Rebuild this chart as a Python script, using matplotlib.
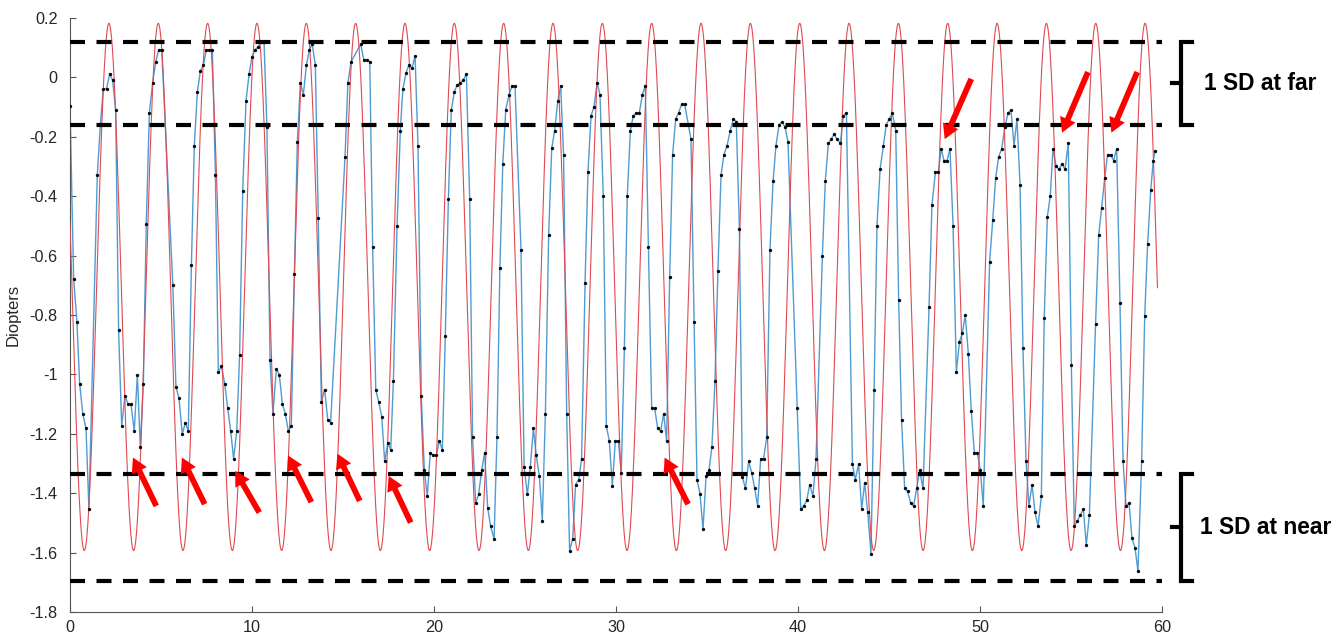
import numpy as np
import matplotlib
matplotlib.use('Agg')
import matplotlib.pyplot as plt
from matplotlib import transforms
from matplotlib.patches import FancyArrowPatch

# ---------------- data ----------------
time_s = [
    0.00, 0.20, 0.38, 0.53, 0.70, 0.88, 1.04, 1.50, 1.67, 1.83, 2.01, 2.18, 2.34, 2.51, 2.67, 2.84,
    3.02, 3.19, 3.35, 3.53, 3.70, 3.86, 4.03, 4.19, 4.36, 4.54, 4.71, 4.87, 5.04, 5.65, 5.82, 5.99,
    6.17, 6.34, 6.50, 6.67, 6.83, 7.00, 7.16, 7.33, 7.49, 7.66, 7.82, 7.99, 8.15, 8.32, 8.50, 8.66,
    8.83, 8.99, 9.16, 9.32, 9.49, 9.67, 9.84, 10.00, 10.16, 10.33, 10.49, 10.66, 10.82, 10.99, 11.15,
    11.34, 11.50, 11.67, 11.83, 12.00, 12.16, 12.33, 12.49, 12.66, 12.82, 12.99, 13.15, 13.31, 13.48,
    13.64, 13.81, 13.99, 14.16, 14.32, 15.11, 15.27, 15.44, 15.97, 16.14, 16.30, 16.47, 16.63, 16.80,
    16.96, 17.13, 17.29, 17.46, 17.62, 17.77, 17.97, 18.15, 18.29, 18.46, 18.63, 18.79, 18.96, 19.12,
    19.30, 19.47, 19.63, 19.80, 19.96, 20.13, 20.29, 20.46, 20.62, 20.79, 20.95, 21.12, 21.28, 21.45,
    21.61, 21.78, 21.96, 22.12, 22.29, 22.45, 22.62, 22.78, 22.95, 23.11, 23.30, 23.46, 23.62, 23.78,
    23.94, 24.12, 24.29, 24.45, 24.78, 24.95, 25.13, 25.29, 25.46, 25.62, 25.79, 25.95, 26.12, 26.30,
    26.47, 26.63, 26.80, 26.96, 27.12, 27.29, 27.45, 27.62, 27.78, 27.95, 28.11, 28.30, 28.46, 28.63,
    28.79, 28.96, 29.12, 29.30, 29.47, 29.63, 29.80, 29.96, 30.13, 30.29, 30.46, 30.62, 30.79, 30.95,
    31.12, 31.28, 31.45, 31.61, 31.78, 31.96, 32.12, 32.29, 32.45, 32.62, 32.78, 32.95, 33.11, 33.28,
    33.44, 33.61, 33.77, 34.12, 34.29, 34.45, 34.62, 34.78, 34.95, 35.11, 35.27, 35.44, 35.60, 35.77,
    35.93, 36.10, 36.28, 36.45, 36.61, 36.78, 36.94, 37.11, 37.29, 37.46, 37.62, 37.78, 37.95, 38.11,
    38.28, 38.46, 38.63, 38.79, 38.96, 39.12, 39.29, 39.45, 39.96, 40.15, 40.31, 40.48, 40.64, 40.82,
    40.99, 41.34, 41.50, 41.67, 41.83, 41.98, 42.14, 42.33, 42.49, 42.66, 42.99, 43.15, 43.33, 43.50,
    43.66, 43.83, 44.01, 44.18, 44.34, 44.51, 44.69, 44.85, 45.02, 45.18, 45.37, 45.53, 45.69, 45.86,
    46.02, 46.19, 46.35, 46.52, 46.68, 46.87, 47.20, 47.36, 47.55, 47.71, 47.87, 48.02, 48.19, 48.35,
    48.52, 48.70, 48.87, 49.03, 49.19, 49.36, 49.52, 49.69, 49.85, 50.02, 50.18, 50.53, 50.70, 50.86,
    51.02, 51.19, 51.37, 51.54, 51.70, 51.87, 52.03, 52.20, 52.36, 52.53, 52.69, 52.86, 53.02, 53.19,
    53.37, 53.53, 53.70, 53.86, 54.01, 54.18, 54.34, 54.51, 54.67, 54.85, 55.02, 55.18, 55.35, 55.51,
    55.68, 55.84, 56.01, 56.35, 56.52, 56.68, 56.85, 57.01, 57.18, 57.34, 57.51, 57.69, 57.86, 58.02,
    58.19, 58.35, 58.52, 58.68, 58.88, 59.05, 59.21, 59.38, 59.52, 59.63,
]
diopters = [
    -0.097, -0.678, -0.822, -1.031, -1.132, -1.182, -1.454, -0.329, -0.158, -0.038, -0.038, 0.012, -0.009, -0.110, -0.851, -1.173,
    -1.073, -1.100, -1.100, -1.192, -1.001, -1.243, -1.031, -0.495, -0.119, -0.018, 0.052, 0.093, 0.093, -0.698, -1.041, -1.081,
    -1.201, -1.162, -1.192, -0.633, -0.230, -0.048, 0.021, 0.041, 0.093, 0.093, 0.093, -0.329, -0.992, -0.973, -1.031, -1.112,
    -1.192, -1.284, -1.192, -0.933, -0.382, -0.080, 0.012, 0.069, 0.093, 0.102, 0.120, 0.120, -0.168, -0.953, -1.132,
    -0.982, -1.001, -1.100, -1.132, -1.192, -1.173, -0.661, -0.218, -0.018, -0.058, 0.041, 0.093, 0.112, 0.041,
    -0.472, -1.093, -1.051, -1.152, -1.162, -0.269, -0.018, 0.052, 0.112, 0.060, 0.060, 0.052, -0.570, -1.051,
    -1.093, -1.142, -1.293, -1.231, -1.254, -1.021, -0.499, -0.179, -0.038, 0.014, 0.043, 0.030, 0.073, -0.230,
    -1.073, -1.323, -1.410, -1.263, -1.273, -1.273, -1.224, -1.254, -0.872, -0.410, -0.110, -0.048, -0.025, -0.018,
    -0.009, 0.012, -0.410, -1.212, -1.433, -1.404, -1.323, -1.263, -1.450, -1.511, -1.554, -1.212, -0.642, -0.290,
    -0.110, -0.058, -0.029, -0.029, -0.580, -1.312, -1.404, -1.312, -1.182, -1.273, -1.342, -1.493, -1.132, -0.531,
    -0.238, -0.179, -0.080, -0.029, -0.260, -1.132, -1.593, -1.554, -1.371, -1.354, -1.284, -0.692, -0.319, -0.129,
    -0.099, -0.018, -0.058, -0.400, -1.173, -1.224, -1.375, -1.224, -1.224, -1.332, -0.911, -0.400, -0.179, -0.129,
    -0.119, -0.119, -0.058, -0.029, -0.570, -1.112, -1.112, -1.182, -1.192, -1.132, -1.224, -0.672, -0.260, -0.140,
    -0.119, -0.090, -0.090, -0.208, -0.822, -1.354, -1.404, -1.522, -1.342, -1.323, -1.243, -1.021, -0.652, -0.329,
    -0.260, -0.230, -0.179, -0.140, -0.149, -0.511, -1.345, -1.384, -1.293, -1.332, -1.384, -1.443, -1.284, -1.284,
    -1.212, -0.580, -0.349, -0.230, -0.159, -0.149, -0.168, -0.218, -1.112, -1.454, -1.443, -1.424, -1.371, -1.410,
    -1.284, -0.600, -0.349, -0.221, -0.208, -0.191, -0.208, -0.221, -0.129, -0.119, -1.302, -1.354, -1.302, -1.454,
    -1.365, -1.463, -1.604, -1.051, -0.499, -0.310, -0.230, -0.159, -0.140, -0.119, -0.179, -0.750, -1.152, -1.384,
    -1.394, -1.433, -1.443, -1.384, -1.323, -1.384, -0.773, -0.430, -0.319, -0.319, -0.240, -0.280, -0.280, -0.240,
    -0.499, -0.992, -0.890, -0.861, -0.800, -0.931, -1.123, -1.263, -1.263, -1.323, -1.443, -0.620, -0.480, -0.339,
    -0.269, -0.240, -0.168, -0.119, -0.110, -0.230, -0.140, -0.361, -0.911, -1.293, -1.443, -1.371, -1.463, -1.511,
    -1.410, -0.809, -0.469, -0.400, -0.240, -0.299, -0.310, -0.290, -0.310, -0.221, -0.970, -1.512, -1.493, -1.473,
    -1.454, -1.574, -1.473, -0.829, -0.531, -0.441, -0.339, -0.260, -0.260, -0.280, -0.240, -0.759, -1.293, -1.443,
    -1.433, -1.552, -1.584, -1.663, -1.293, -0.803, -0.561, -0.380, -0.280, -0.247,
]

# sinusoidal stimulus (parameters)
stim_mean = -0.7055
stim_amp = 0.8875
stim_period = 2.711
stim_first_peak = 2.14
stim_end = 59.75

# +/- 1 SD reference levels
sd_far = [0.12, -0.16]
sd_near = [-1.335, -1.695]
sd_labels = ['1 SD at far', '1 SD at near']

# red arrows: tail (t, D) -> head (t, D)
arrow_tail_t = [4.74, 7.40, 10.40, 13.26, 15.92, 18.72, 33.96, 49.52, 55.93, 58.64]
arrow_tail_d = [-1.443, -1.437, -1.465, -1.430, -1.426, -1.499, -1.437, -0.005, 0.018, 0.018]
arrow_head_t = [3.46, 6.15, 9.08, 11.98, 14.69, 17.51, 32.67, 48.06, 54.51, 57.22]
arrow_head_d = [-1.280, -1.280, -1.325, -1.273, -1.267, -1.342, -1.280, -0.208, -0.186, -0.186]

x_ticks = [0, 10, 20, 30, 40, 50, 60]
y_ticks = [0.2, 0.0, -0.2, -0.4, -0.6, -0.8, -1.0, -1.2, -1.4, -1.6, -1.8]
y_tick_labels = ['0.2', '0', '-0.2', '-0.4', '-0.6', '-0.8', '-1', '-1.2', '-1.4', '-1.6', '-1.8']
y_label = 'Diopters'

# ---------------- drawing ----------------
plt.rcParams['font.family'] = ['Liberation Sans', 'DejaVu Sans']
plt.rcParams['axes.unicode_minus'] = False

W, H = 1338, 638
fig = plt.figure(figsize=(W / 100, H / 100), dpi=100)
fig.patch.set_facecolor('white')
ax = fig.add_axes([70 / W, 26 / H, 1092 / W, 594 / H])

t_stim = np.linspace(0, stim_end, 4000)
d_stim = stim_mean + stim_amp * np.cos(2 * np.pi * (t_stim - stim_first_peak) / stim_period)

ax.plot(time_s, diopters, color='#4f9bd2', lw=1.0, zorder=2)
ax.plot(t_stim, d_stim, color='#e04a52', lw=0.8, zorder=3)
ax.plot(time_s, diopters, linestyle='none', marker='o', ms=2.1, mfc='black', mec='black',
        mew=0.3, zorder=4)

for lvl in sd_far + sd_near:
    ax.axhline(lvl, color='black', lw=3.0, dashes=(3.6, 2.76), zorder=5)

for tt, td, ht, hd in zip(arrow_tail_t, arrow_tail_d, arrow_head_t, arrow_head_d):
    arr = FancyArrowPatch((tt, td), (ht, hd),
                          arrowstyle='simple,head_length=1.05,head_width=1.2,tail_width=0.42',
                          mutation_scale=10, color='#ff0000', lw=0, zorder=6,
                          shrinkA=0, shrinkB=0)
    ax.add_patch(arr)

ax.set_xlim(0, 60)
ax.set_ylim(-1.8, 0.2)
ax.set_xticks(x_ticks)
ax.set_xticklabels([str(v) for v in x_ticks])
ax.set_yticks(y_ticks)
ax.set_yticklabels(y_tick_labels)
for s in ['top', 'right']:
    ax.spines[s].set_visible(False)
for s in ['left', 'bottom']:
    ax.spines[s].set_color('#555555')
    ax.spines[s].set_linewidth(0.8)
ax.tick_params(axis='both', direction='in', length=4.5, width=0.8, color='#555555',
               labelsize=11.7, labelcolor='#262626')
ax.tick_params(axis='y', pad=9)
ax.tick_params(axis='x', pad=6)
ax.set_ylabel(y_label, fontsize=12, color='#262626', labelpad=6)

# braces and labels on the right
blend = transforms.blended_transform_factory(fig.transFigure, ax.transData)
x_bar = 1181 / W
x_serif = 1192 / W
x_nub = 1172 / W
for (top, bot), label, tx in zip([sd_far, sd_near], sd_labels, [1204 / W, 1200 / W]):
    mid = (top + bot) / 2
    ax.plot([x_serif, x_bar, x_bar, x_serif], [top, top, bot, bot], transform=blend,
            color='black', lw=3.0, clip_on=False, solid_joinstyle='miter', zorder=7)
    ax.plot([x_nub, x_bar], [mid, mid], transform=blend, color='black', lw=3.0,
            clip_on=False, zorder=7)
    ax.text(tx, mid, label, transform=blend, fontsize=16.4, fontweight='bold',
            va='center', ha='left', color='black')

fig.savefig('out.png', dpi=100, facecolor='white')
